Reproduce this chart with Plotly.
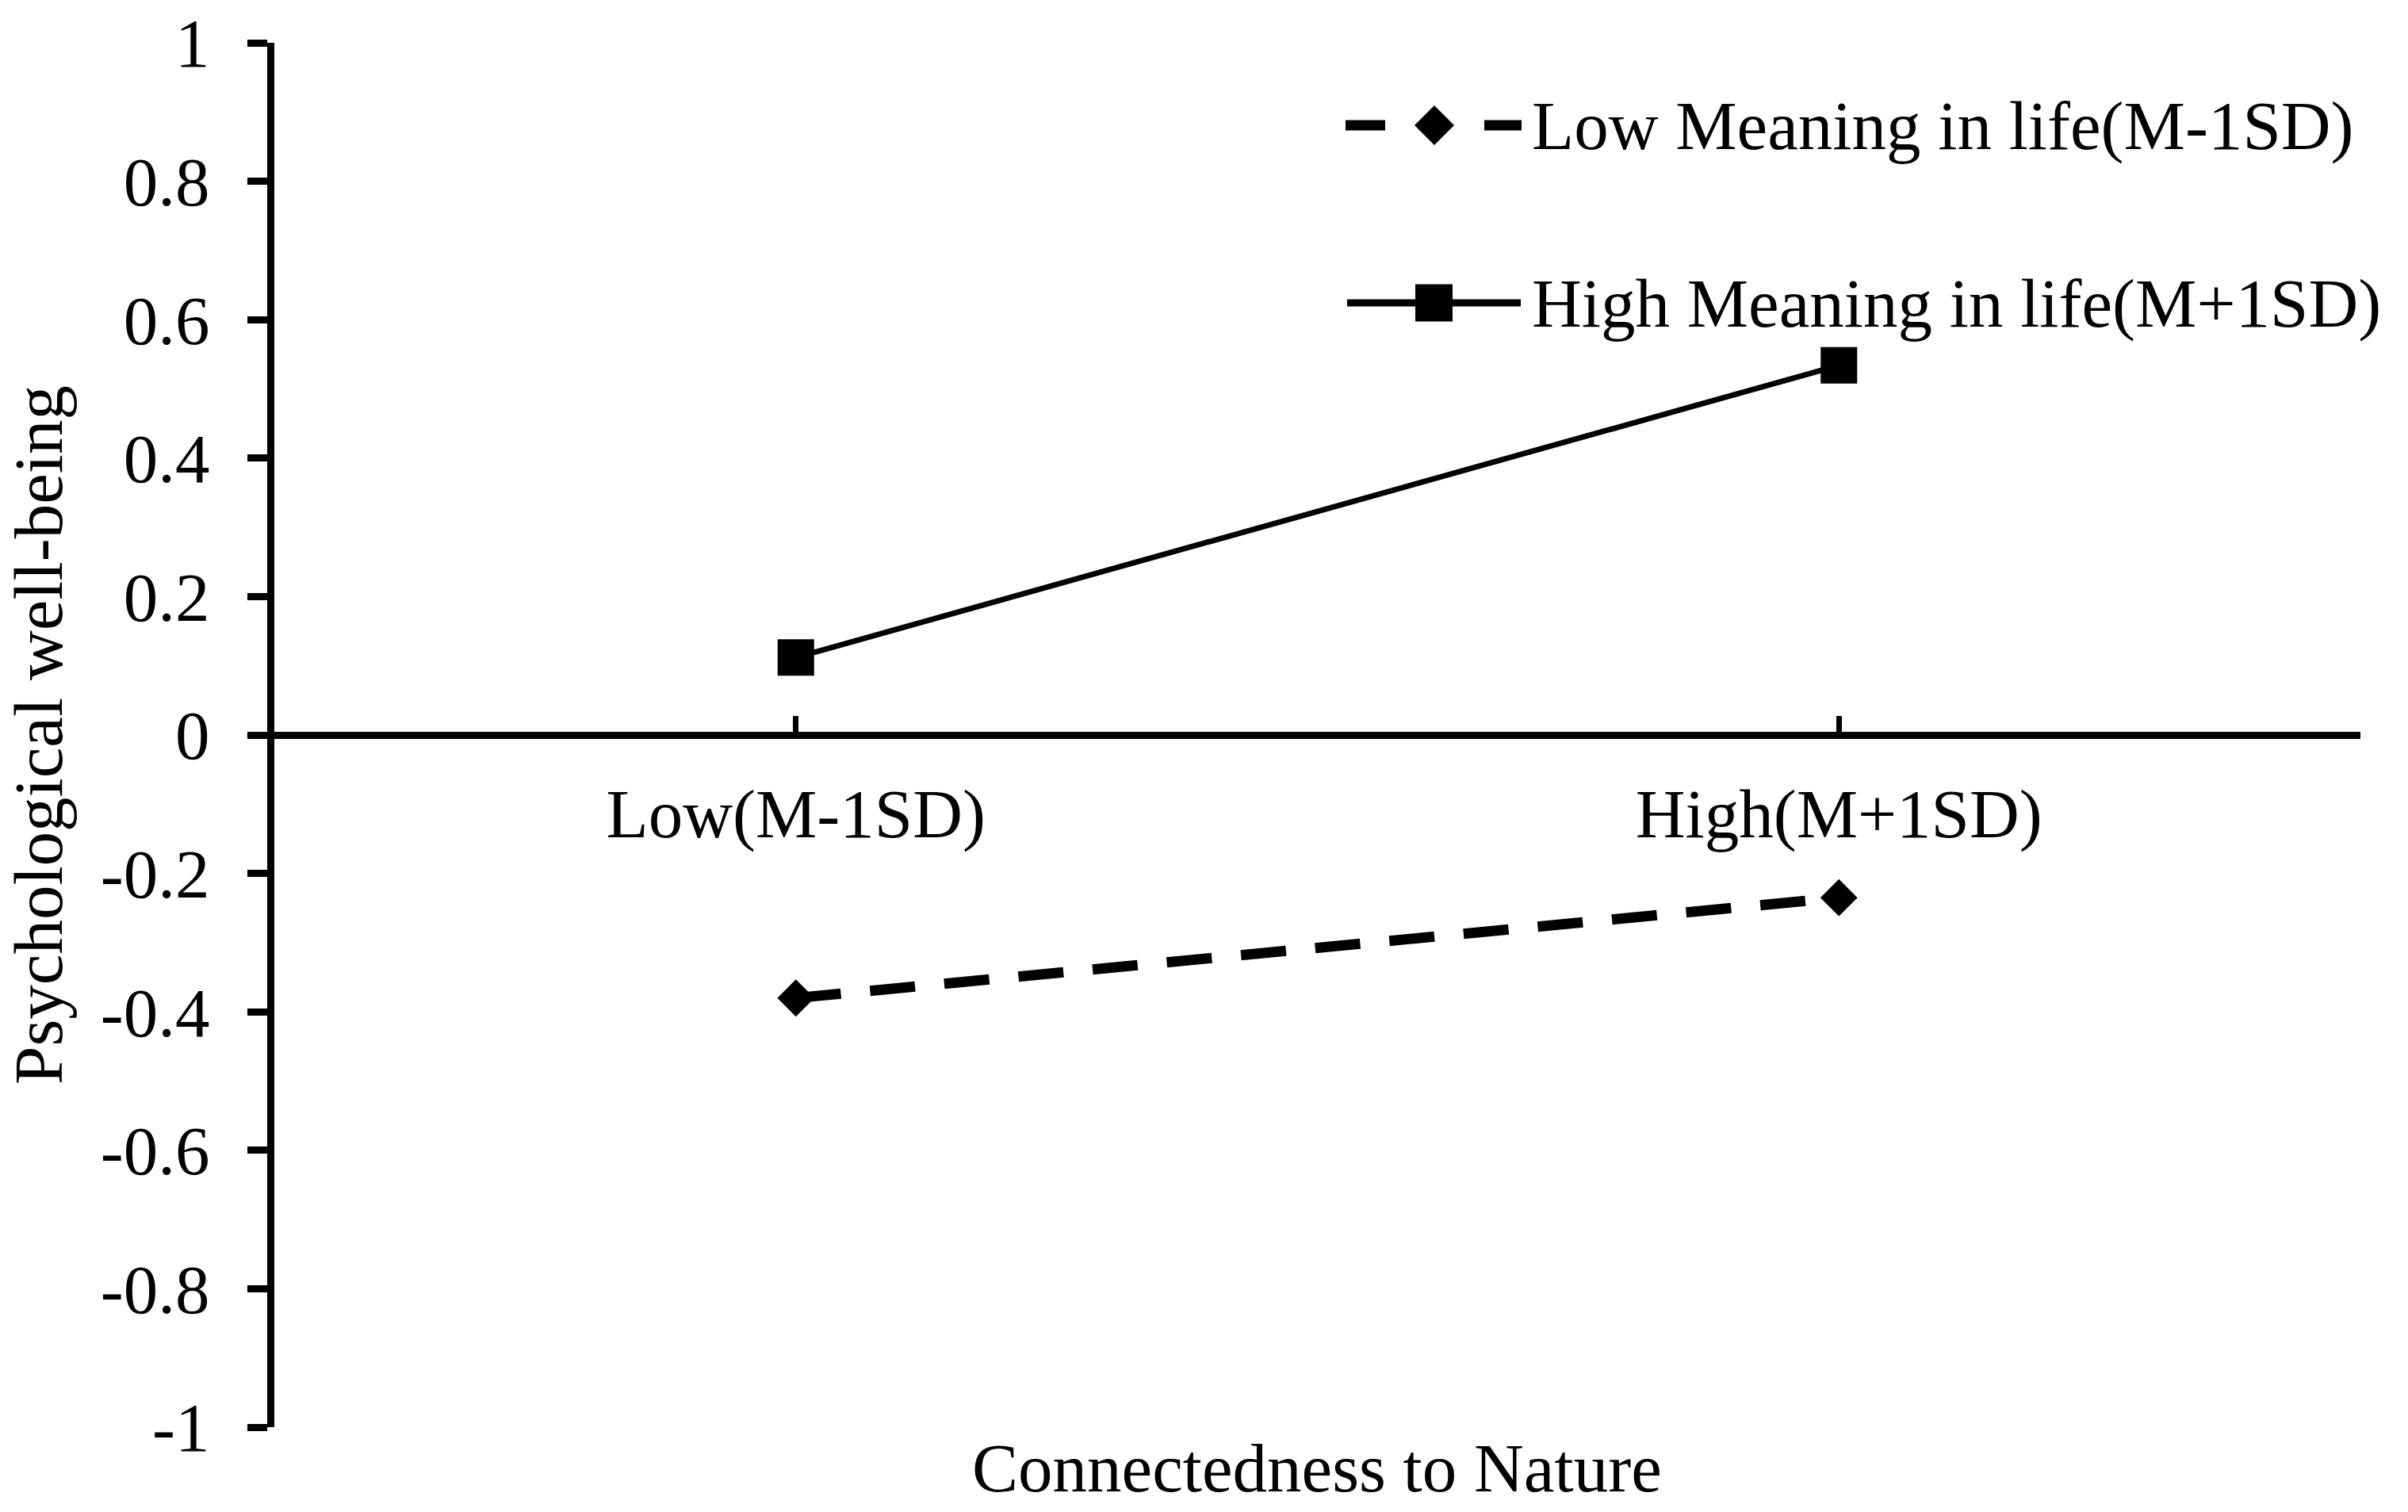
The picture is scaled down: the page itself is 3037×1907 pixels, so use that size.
import plotly.graph_objects as go

# ---- data ----
categories = ["Low(M-1SD)", "High(M+1SD)"]
low_meaning = [-0.380, -0.235]
high_meaning = [0.112, 0.534]
series_names = ["Low Meaning in life(M-1SD)", "High Meaning in life(M+1SD)"]
y_tick_values = [1, 0.8, 0.6, 0.4, 0.2, 0, -0.2, -0.4, -0.6, -0.8, -1]
y_tick_labels = ["1", "0.8", "0.6", "0.4", "0.2", "0", "-0.2", "-0.4", "-0.6", "-0.8", "-1"]
x_title = "Connectedness to Nature"
y_title = "Psychological well-being"

# ---- layout constants (pixels) ----
W, H = 3037, 1907
PLOT_L, PLOT_R, PLOT_T, PLOT_B = 346, 2977, 54, 1800  # target plot box
L = PLOT_L
R = W - PLOT_R
T = PLOT_T
B = H - PLOT_B
FONT = "Liberation Serif, Times New Roman, serif"
FS = 87
pw = W - L - R
ph = H - T - B


def px(x):
    return (x - L) / pw


def py(y):
    return (H - B - y) / ph


x_idx = list(range(len(categories)))

fig = go.Figure()
fig.add_trace(go.Scatter(
    x=x_idx, y=low_meaning, name=series_names[0], mode="lines+markers",
    line=dict(color="black", width=13, dash="57px,37px"),
    marker=dict(symbol="diamond", size=36, color="black", line=dict(width=0)),
    showlegend=False,
))
fig.add_trace(go.Scatter(
    x=x_idx, y=high_meaning, name=series_names[1], mode="lines+markers",
    line=dict(color="black", width=7),
    marker=dict(symbol="square", size=46, color="black", line=dict(width=0)),
    showlegend=False,
))

# ---- custom legend (keys + labels) ----
shapes = []
annotations = []
row_y = [158, 382]
# row 1: dashed with diamond
for x0, x1 in [(1697, 1747), (1872, 1919)]:
    shapes.append(dict(type="line", xref="paper", yref="paper",
                       x0=px(x0), x1=px(x1), y0=py(row_y[0]), y1=py(row_y[0]),
                       line=dict(color="black", width=13)))
cx, cy, hx, hy = 1809, row_y[0], 25, 25
shapes.append(dict(type="path", xref="paper", yref="paper",
                   path=f"M {px(cx-hx)},{py(cy)} L {px(cx)},{py(cy-hy)} L {px(cx+hx)},{py(cy)} L {px(cx)},{py(cy+hy)} Z",
                   fillcolor="black", line=dict(width=0)))
# row 2: solid with square
shapes.append(dict(type="line", xref="paper", yref="paper",
                   x0=px(1699), x1=px(1918), y0=py(row_y[1]), y1=py(row_y[1]),
                   line=dict(color="black", width=9)))
shapes.append(dict(type="rect", xref="paper", yref="paper",
                   x0=px(1785), x1=px(1832), y0=py(row_y[1] - 23.5), y1=py(row_y[1] + 23.5),
                   fillcolor="black", line=dict(width=0)))
for name, ry in zip(series_names, row_y):
    annotations.append(dict(text=name, xref="paper", yref="paper", x=px(1930), y=py(ry),
                            xanchor="left", yanchor="middle", showarrow=False,
                            font=dict(family=FONT, size=FS, color="black")))

# x-axis title at bottom
annotations.append(dict(text=x_title, xref="paper", yref="paper", x=px(1661), y=py(1852),
                        xanchor="center", yanchor="middle", showarrow=False,
                        font=dict(family=FONT, size=FS, color="black")))

fig.update_layout(
    template="none",
    width=W, height=H,
    margin=dict(l=L, r=R, t=T, b=B, pad=0, autoexpand=False),
    paper_bgcolor="white", plot_bgcolor="white",
    font=dict(family=FONT, size=FS, color="black"),
    shapes=shapes, annotations=annotations,
    xaxis=dict(
        range=[-0.5, 1.5], anchor="free", position=0.5, automargin=False,
        tickmode="array", tickvals=x_idx + [1.5], ticktext=categories + [""],
        ticks="inside", ticklen=20, tickwidth=7, tickcolor="black",
        showline=True, linewidth=9, linecolor="black",
        showgrid=False, zeroline=False,
        tickfont=dict(family=FONT, size=FS, color="black"),
        ticklabelstandoff=20, ticklabeloverflow="allow",
    ),
    yaxis=dict(
        range=[-1, 1], domain=[0, 1], automargin=False,
        tickmode="array", tickvals=y_tick_values, ticktext=y_tick_labels,
        ticks="outside", ticklen=25, tickwidth=9, tickcolor="black",
        showline=True, linewidth=9, linecolor="black",
        showgrid=False, zeroline=False,
        tickfont=dict(family=FONT, size=FS, color="black"),
        ticklabelstandoff=30, ticklabeloverflow="allow",
        title=dict(text=y_title, font=dict(family=FONT, size=FS, color="black"), standoff=30),
    ),
)

fig.write_html("out.html", config={"displayModeBar": False},
               post_script="document.body.style.margin='0';")
